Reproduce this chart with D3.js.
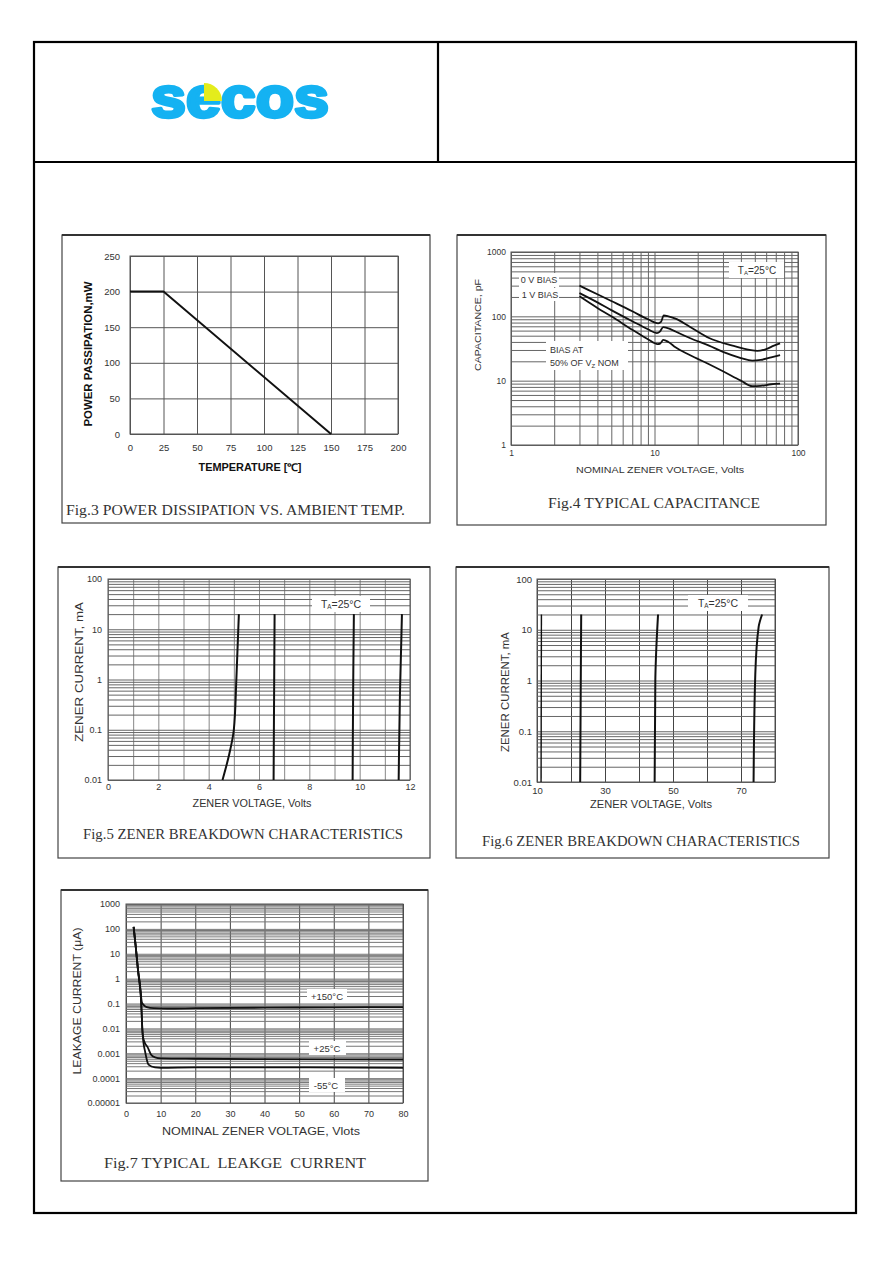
<!DOCTYPE html>
<html>
<head>
<meta charset="utf-8">
<script src="https://cdn.jsdelivr.net/npm/d3@7"></script>
<style>
  body { margin: 0; background: #fff; }
  text { font-family: "Liberation Sans", Arial, sans-serif; }
  .cap { font-family: "Liberation Serif", "Times New Roman", serif; white-space: pre; }
</style>
</head>
<body>
<script>
// ---- data ----
// Fig.3 power dissipation vs ambient temp
const f3Temp = [0, 25, 150];
const f3Power = [200, 200, 0];
const f3XTicks = [0, 25, 50, 75, 100, 125, 150, 175, 200];
const f3YTicks = [0, 50, 100, 150, 200, 250];

// Fig.4 typical capacitance
const f4Volts0 = [3, 4, 5, 7, 9, 10.6, 11.1, 11.6, 12.5, 14, 17.6, 24, 35, 46, 52, 60, 68, 75];
const f4Cap0   = [300, 220, 173, 120, 90, 78, 82, 103, 100, 92, 69, 46, 35, 30, 29, 31, 35, 38];
const f4Volts1 = [3, 4, 5, 7, 9, 10.4, 10.9, 11.5, 12.8, 14, 17.6, 24, 30, 40, 48, 55, 65, 75];
const f4Cap1   = [230, 165, 125, 84, 63, 55, 58, 68, 64, 58, 46, 35, 28, 22.5, 20.5, 21, 23, 25];
const f4Volts50 = [3, 4, 5, 7, 9, 10.5, 11, 11.5, 12.5, 14, 17.6, 24, 30, 40, 48, 55, 65, 75];
const f4Cap50   = [205, 135, 100, 62, 44, 37, 38, 43, 40, 33, 25, 18, 14, 10, 8.2, 8.3, 8.8, 9];
const f4XTicks = [1, 10, 100];
const f4YTicks = [1, 10, 100, 1000];

// Fig.5 zener breakdown, low voltage
const f5Curves = [
  { v: [4.55, 4.8, 5.0, 5.1, 5.2], i: [0.01, 0.03, 0.1, 1, 20] },
  { v: [6.58, 6.6, 6.62], i: [0.01, 0.5, 20] },
  { v: [9.72, 9.74, 9.77], i: [0.01, 0.5, 20] },
  { v: [11.55, 11.6, 11.68], i: [0.01, 0.5, 20] }
];
const f5XTicks = [0, 2, 4, 6, 8, 10, 12];
const f5YTicks = [0.01, 0.1, 1, 10, 100];
const f5YLabels = ["0.01", "0.1", "1", "10", "100"];

// Fig.6 zener breakdown, high voltage
const f6Curves = [
  { v: [11.2, 11.3], i: [0.01, 20] },
  { v: [22.7, 22.85, 23.0], i: [0.01, 0.5, 20] },
  { v: [44.6, 44.8, 45.0, 45.6], i: [0.01, 1, 3, 20] },
  { v: [73.7, 74.2, 75.2, 76.2], i: [0.01, 1.3, 11.5, 20] }
];
const f6XTicks = [10, 30, 50, 70];

// Fig.7 typical leakage current
const f7Volts150 = [2.2, 2.8, 3.5, 4.2, 4.6, 5.2, 6, 8, 12, 20, 40, 60, 80];
const f7Leak150  = [120, 20, 2, 0.3, 0.11, 0.085, 0.072, 0.065, 0.063, 0.065, 0.068, 0.07, 0.072];
const f7Volts25 = [2.2, 2.8, 3.5, 4.2, 4.5, 4.7, 5.0, 5.5, 6.2, 7.2, 8.4, 10, 20, 40, 80];
const f7Leak25  = [120, 20, 2, 0.3, 0.05, 0.01, 0.004, 0.0025, 0.0018, 0.0009, 0.00068, 0.00062, 0.0006, 0.00058, 0.00056];
const f7VoltsM55 = [2.2, 2.8, 3.5, 4.2, 4.5, 4.7, 5.0, 5.5, 6.5, 8.4, 10, 20, 40, 80];
const f7LeakM55  = [120, 20, 2, 0.3, 0.05, 0.01, 0.003, 0.0012, 0.00035, 0.00027, 0.00026, 0.00027, 0.00027, 0.00026];
const f7XTicks = [0, 10, 20, 30, 40, 50, 60, 70, 80];
const f7YTicks = [1e-5, 1e-4, 1e-3, 1e-2, 1e-1, 1, 10, 100, 1000];
const f7YLabels = ["0.00001", "0.0001", "0.001", "0.01", "0.1", "1", "10", "100", "1000"];

// ---- page ----
let svg = d3.select("body").append("svg")
    .attr("width", 892)
    .attr("height", 1261);

svg.append("rect")
    .attr("x", 34).attr("y", 42).attr("width", 822).attr("height", 1171)
    .attr("fill", "none").attr("stroke", "#000").attr("stroke-width", 2.2);
svg.append("line")
    .attr("x1", 34).attr("x2", 856).attr("y1", 162).attr("y2", 162)
    .attr("stroke", "#000").attr("stroke-width", 2.2);
svg.append("line")
    .attr("x1", 438).attr("x2", 438).attr("y1", 42).attr("y2", 162)
    .attr("stroke", "#000").attr("stroke-width", 2.2);

// logo
svg.append("text")
    .attr("x", 151).attr("y", 117)
    .attr("font-family", "DejaVu Sans")
    .attr("font-weight", "bold")
    .attr("font-size", 58)
    .attr("textLength", 178)
    .attr("lengthAdjust", "spacingAndGlyphs")
    .attr("fill", "#14b2f2")
    .attr("stroke", "#14b2f2")
    .attr("stroke-width", 3.5)
    .attr("stroke-linejoin", "round")
    .text("secos");
svg.append("path")
    .attr("d", d3.arc()({ innerRadius: 0, outerRadius: 18, startAngle: 0, endAngle: Math.PI / 2 }))
    .attr("transform", "translate(204,101)")
    .attr("fill", "#e4ec1c");

// ---- helpers ----
function logMinor(lo, hi) {
  let out = [];
  for (let e = lo; e < hi; e++)
    for (let k = 1; k <= 9; k++) out.push(k * Math.pow(10, e));
  out.push(Math.pow(10, hi));
  return out;
}

function panelBox(x, y, w, h) {
  svg.append("rect")
      .attr("x", x).attr("y", y).attr("width", w).attr("height", h)
      .attr("fill", "#fff").attr("stroke", "#444").attr("stroke-width", 1.2);
  svg.append("line")
      .attr("x1", x).attr("x2", x + w).attr("y1", y).attr("y2", y)
      .attr("stroke", "#333").attr("stroke-width", 2.2);
}

function grid(x, y, xVals, yVals, xColor, yColor) {
  let [y0, y1] = y.range();
  let [x0, x1] = x.range();
  svg.append("g")
      .attr("transform", "translate(0," + y0 + ")")
      .call(d3.axisBottom(x).tickValues(xVals).tickSize(-(y0 - y1)).tickFormat(""))
      .call(g => g.select(".domain").remove())
      .call(g => g.selectAll("line").attr("stroke", xColor));
  svg.append("g")
      .attr("transform", "translate(" + x0 + ",0)")
      .call(d3.axisLeft(y).tickValues(yVals).tickSize(-(x1 - x0)).tickFormat(""))
      .call(g => g.select(".domain").remove())
      .call(g => g.selectAll("line").attr("stroke", yColor));
  svg.append("rect")
      .attr("x", x0).attr("y", y1).attr("width", x1 - x0).attr("height", y0 - y1)
      .attr("fill", "none").attr("stroke", "#555").attr("stroke-width", 1);
}

function tickLabels(x, y, xVals, xLabels, yVals, yLabels, size, xPad, yPad) {
  svg.append("g")
      .attr("transform", "translate(0," + y.range()[0] + ")")
      .call(d3.axisBottom(x).tickValues(xVals).tickFormat((d, i) => xLabels[i]).tickSize(0).tickPadding(xPad))
      .call(g => g.select(".domain").remove())
      .attr("font-family", "Liberation Sans, Arial, sans-serif")
      .attr("font-size", size)
      .selectAll("text").attr("fill", "#333");
  svg.append("g")
      .attr("transform", "translate(" + x.range()[0] + ",0)")
      .call(d3.axisLeft(y).tickValues(yVals).tickFormat((d, i) => yLabels[i]).tickSize(0).tickPadding(yPad))
      .call(g => g.select(".domain").remove())
      .attr("font-family", "Liberation Sans, Arial, sans-serif")
      .attr("font-size", size)
      .selectAll("text").attr("fill", "#333");
}

function label(x, y, txt, size, opts) {
  opts = opts || {};
  let t = svg.append("text")
      .attr("x", x).attr("y", y)
      .attr("text-anchor", opts.anchor || "middle")
      .attr("font-size", size)
      .attr("fill", opts.fill || "#333")
      .attr("font-weight", opts.bold ? "bold" : "normal");
  if (opts.len) t.attr("textLength", opts.len).attr("lengthAdjust", "spacingAndGlyphs");
  if (opts.rotate) t.attr("transform", "rotate(-90," + x + "," + y + ")");
  if (opts.cls) t.attr("class", opts.cls);
  t.text(txt);
  return t;
}

function whiteBox(x, y, w, h) {
  svg.append("rect").attr("x", x).attr("y", y).attr("width", w).attr("height", h).attr("fill", "#fff");
}

// "T_A=25°C" style label
function taLabel(x, y, size) {
  let t = svg.append("text").attr("x", x).attr("y", y)
      .attr("text-anchor", "middle").attr("font-size", size).attr("fill", "#333");
  t.append("tspan").text("T");
  t.append("tspan").attr("font-size", size * 0.6).attr("dy", 1).text("A");
  t.append("tspan").attr("dy", -1).text("=25°C");
}

function drawCurve(x, y, pts, curve, width) {
  svg.append("path")
      .datum(pts)
      .attr("fill", "none")
      .attr("stroke", "#111")
      .attr("stroke-width", width || 1.8)
      .attr("stroke-linejoin", "round")
      .attr("d", d3.line().x(d => x(d[0])).y(d => y(d[1])).curve(curve));
}

// ---- Fig.3 ----
panelBox(62, 235, 368, 288);
let x3 = d3.scaleLinear().domain([0, 200]).range([130, 398]);
let y3 = d3.scaleLinear().domain([0, 250]).range([434, 256]);
grid(x3, y3, f3XTicks, f3YTicks, "#555", "#555");
tickLabels(x3, y3, f3XTicks, f3XTicks.map(String), f3YTicks, f3YTicks.map(String), 9.5, 10, 10);
drawCurve(x3, y3, d3.zip(f3Temp, f3Power), d3.curveLinear, 2);
label(250, 471, "TEMPERATURE [℃]", 10.5, { bold: true, len: 103, fill: "#111" });
label(92, 354, "POWER PASSIPATION,mW", 10.5, { bold: true, len: 145, rotate: true, fill: "#111" });
label(405, 515, "Fig.3 POWER DISSIPATION VS. AMBIENT TEMP.", 14.5, { anchor: "end", cls: "cap", len: 339 });

// ---- Fig.4 ----
panelBox(457, 235, 369, 290);
let x4 = d3.scaleLog().domain([1, 100]).range([511, 798]);
let y4 = d3.scaleLog().domain([1, 1000]).range([445, 252]);
grid(x4, y4, logMinor(0, 2), logMinor(0, 3), "#666", "#666");
tickLabels(x4, y4, f4XTicks, f4XTicks.map(String), f4YTicks, f4YTicks.map(String), 8.5, 5, 5);
drawCurve(x4, y4, d3.zip(f4Volts0, f4Cap0), d3.curveMonotoneX);
drawCurve(x4, y4, d3.zip(f4Volts1, f4Cap1), d3.curveMonotoneX);
drawCurve(x4, y4, d3.zip(f4Volts50, f4Cap50), d3.curveMonotoneX);
whiteBox(519, 273, 40, 14);
label(539, 283, "0 V BIAS", 9);
whiteBox(519, 288, 40, 13);
label(540, 298, "1 V BIAS", 9);
whiteBox(729, 262, 55, 16);
taLabel(757, 274, 10);
whiteBox(546, 341, 82, 29);
label(550, 353, "BIAS AT", 9, { anchor: "start" });
let t50 = svg.append("text").attr("x", 550).attr("y", 366).attr("font-size", 9).attr("fill", "#333");
t50.append("tspan").text("50% OF V");
t50.append("tspan").attr("font-size", 6).attr("dy", 2).text("Z");
t50.append("tspan").attr("dy", -2).text(" NOM");
label(660, 473, "NOMINAL ZENER VOLTAGE, Volts", 9.5, { len: 168 });
label(481, 325, "CAPACITANCE, pF", 9.5, { len: 92, rotate: true });
label(760, 508, "Fig.4 TYPICAL CAPACITANCE", 14.5, { anchor: "end", cls: "cap", len: 212 });

// ---- Fig.5 ----
panelBox(58, 567, 372, 291);
let x5 = d3.scaleLinear().domain([0, 12]).range([108, 410]);
let y5 = d3.scaleLog().domain([0.01, 100]).range([780, 579]);
grid(x5, y5, d3.range(0, 13), logMinor(-2, 2), "#888", "#666");
tickLabels(x5, y5, f5XTicks, f5XTicks.map(String), f5YTicks, f5YLabels, 9, 4, 6);
f5Curves.forEach(c => drawCurve(x5, y5, d3.zip(c.v, c.i), d3.curveMonotoneY, 2));
whiteBox(312, 596, 58, 16);
taLabel(341, 608, 10.5);
label(252, 807, "ZENER VOLTAGE, Volts", 10.5, { len: 119 });
label(83, 672, "ZENER CURRENT, mA", 11, { len: 140, rotate: true });
label(403, 839, "Fig.5 ZENER BREAKDOWN CHARACTERISTICS", 14.5, { anchor: "end", cls: "cap", len: 320 });

// ---- Fig.6 ----
panelBox(456, 567, 373, 291);
let x6 = d3.scaleLinear().domain([10, 80]).range([537, 775]);
let y6 = d3.scaleLog().domain([0.01, 100]).range([782, 579]);
grid(x6, y6, d3.range(10, 81, 10), logMinor(-2, 2), "#444", "#666");
tickLabels(x6, y6, f6XTicks, f6XTicks.map(String), f5YTicks, f5YLabels, 9.5, 5, 5);
f6Curves.forEach((c, k) => drawCurve(x6, y6, d3.zip(c.v, c.i), d3.curveMonotoneY, k === 0 ? 1.4 : 2));
whiteBox(688, 595, 60, 16);
taLabel(718, 607, 10.5);
label(651, 808, "ZENER VOLTAGE, Volts", 10.5, { len: 122 });
label(509, 692, "ZENER CURRENT, mA", 10, { len: 120, rotate: true });
label(800, 846, "Fig.6 ZENER BREAKDOWN CHARACTERISTICS", 14.5, { anchor: "end", cls: "cap", len: 318 });

// ---- Fig.7 ----
panelBox(61, 890, 367, 291);
let x7 = d3.scaleLinear().domain([0, 80]).range([126, 403]);
let y7 = d3.scaleLog().domain([1e-5, 1000]).range([1103, 904]);
grid(x7, y7, f7XTicks, logMinor(-5, 3), "#444", "#777");
tickLabels(x7, y7, f7XTicks, f7XTicks.map(String), f7YTicks, f7YLabels, 9, 8, 6);
drawCurve(x7, y7, d3.zip(f7Volts150, f7Leak150), d3.curveMonotoneX);
drawCurve(x7, y7, d3.zip(f7Volts25, f7Leak25), d3.curveMonotoneX);
drawCurve(x7, y7, d3.zip(f7VoltsM55, f7LeakM55), d3.curveMonotoneX);
whiteBox(307, 989, 40, 14);
label(327, 1000, "+150°C", 9.5);
whiteBox(309, 1041, 37, 14);
label(327, 1052, "+25°C", 9.5);
whiteBox(309, 1078, 36, 14);
label(326, 1089, "-55°C", 9.5);
label(261, 1135, "NOMINAL ZENER VOLTAGE, Vlots", 11, { len: 198 });
label(81, 1001, "LEAKAGE CURRENT (μA)", 11, { len: 147, rotate: true });
label(366, 1168, "Fig.7 TYPICAL  LEAKGE  CURRENT", 14.5, { anchor: "end", cls: "cap", len: 262 });
</script>
</body>
</html>
